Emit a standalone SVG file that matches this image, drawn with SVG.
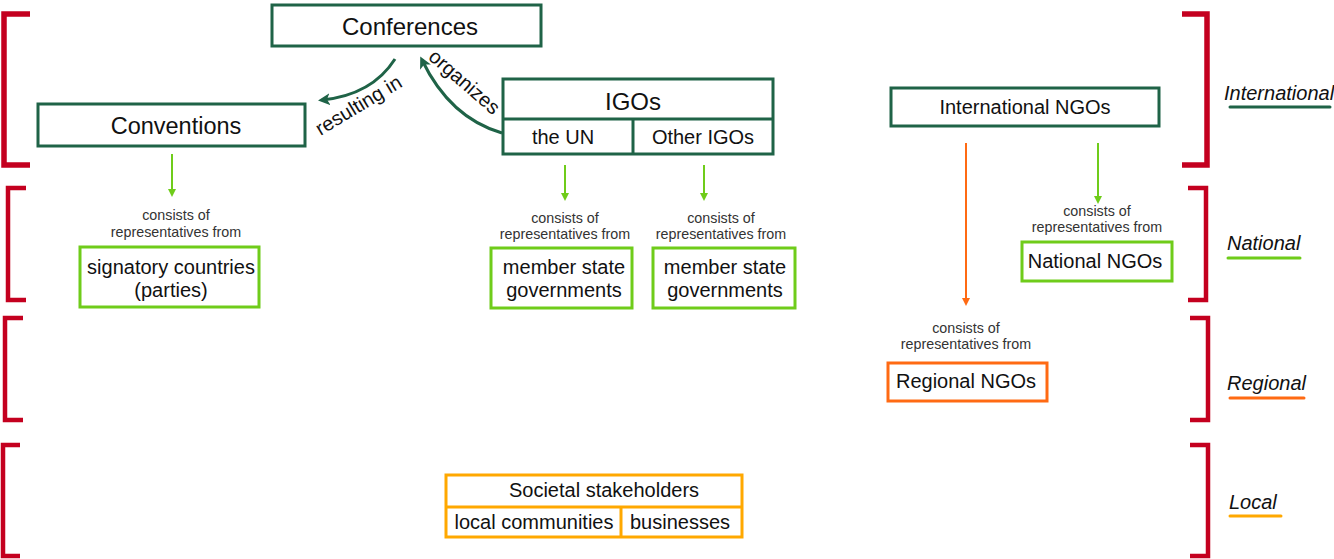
<svg xmlns="http://www.w3.org/2000/svg" width="1334" height="559" viewBox="0 0 1334 559">
<defs>
<style>
text{font-family:"Liberation Sans",Arial,sans-serif;fill:#111}
.br{fill:none;stroke:#c4001f;stroke-width:4.5}
.brT{fill:none;stroke:#c4001f;stroke-width:5.5}
.dg{fill:#fff;stroke:#1f6347;stroke-width:3}
.lg{fill:#fff;stroke:#6fcc1a;stroke-width:3}
.or{fill:#fff;stroke:#ff6a13;stroke-width:3}
.am{fill:#fff;stroke:#ffa800;stroke-width:3}
.small{font-size:14.3px;fill:#333}
.lvl{font-size:20px;font-style:italic}
.t20{font-size:20px}
</style>
<marker id="ag" markerWidth="8" markerHeight="8" refX="6" refY="4" orient="auto" markerUnits="userSpaceOnUse"><path d="M0,0 L8,4 L0,8 z" fill="#6fcc1a"/></marker>
<marker id="ao" markerWidth="8" markerHeight="8" refX="6" refY="4" orient="auto" markerUnits="userSpaceOnUse"><path d="M0,0 L8,4 L0,8 z" fill="#ff6a13"/></marker>
<marker id="ad" markerWidth="12" markerHeight="12" refX="8" refY="6" orient="auto" markerUnits="userSpaceOnUse"><path d="M0,0 L12,6 L0,12 L3,6 z" fill="#1f6347"/></marker>
</defs>

<g id="brackets">
<path class="brT" d="M30,14 H4 V165 H30"/>
<path class="br" d="M26,188 H8 V300 H26"/>
<path class="br" d="M23,318 H5 V420 H23"/>
<path class="br" d="M20,445 H3 V556 H20"/>
<path class="brT" d="M1182,14 H1207 V165 H1182"/>
<path class="br" d="M1188,188 H1206 V300 H1188"/>
<path class="br" d="M1190,318 H1208 V420 H1190"/>
<path class="br" d="M1190,445 H1208 V556 H1190"/>
</g>

<g id="levels">
<text class="lvl" x="1224" y="100">International</text>
<line x1="1230" y1="107" x2="1330" y2="107" stroke="#1f6347" stroke-width="3" stroke-linecap="round"/>
<text class="lvl" x="1227" y="250">National</text>
<line x1="1228" y1="258" x2="1300" y2="258" stroke="#6fcc1a" stroke-width="3" stroke-linecap="round"/>
<text class="lvl" x="1227" y="390">Regional</text>
<line x1="1230" y1="398" x2="1304" y2="398" stroke="#ff6a13" stroke-width="3" stroke-linecap="round"/>
<text class="lvl" x="1229" y="509">Local</text>
<line x1="1230" y1="516" x2="1281" y2="516" stroke="#ffa800" stroke-width="3" stroke-linecap="round"/>
</g>

<g id="connectors">
<path d="M395,59 Q372,95 322,100" fill="none" stroke="#1f6347" stroke-width="3" marker-end="url(#ad)"/>
<path d="M502,133 Q450,118 422,60" fill="none" stroke="#1f6347" stroke-width="3" marker-end="url(#ad)"/>
<text x="0" y="0" class="t20" transform="translate(362,111) rotate(-31)" text-anchor="middle">resulting in</text>
<text x="0" y="0" class="t20" transform="translate(460,87) rotate(41)" text-anchor="middle">organizes</text>
<line x1="172" y1="154" x2="172" y2="195" stroke="#6fcc1a" stroke-width="2" marker-end="url(#ag)"/>
<line x1="565" y1="165" x2="565" y2="199" stroke="#6fcc1a" stroke-width="2" marker-end="url(#ag)"/>
<line x1="704" y1="165" x2="704" y2="199" stroke="#6fcc1a" stroke-width="2" marker-end="url(#ag)"/>
<line x1="1098" y1="143" x2="1098" y2="202" stroke="#6fcc1a" stroke-width="2" marker-end="url(#ag)"/>
<line x1="966" y1="143" x2="966" y2="304" stroke="#ff6a13" stroke-width="2" marker-end="url(#ao)"/>
<text class="small" x="176" y="220" text-anchor="middle">consists of</text>
<text class="small" x="176" y="237" text-anchor="middle">representatives from</text>
<text class="small" x="565" y="223" text-anchor="middle">consists of</text>
<text class="small" x="565" y="239" text-anchor="middle">representatives from</text>
<text class="small" x="721" y="223" text-anchor="middle">consists of</text>
<text class="small" x="721" y="239" text-anchor="middle">representatives from</text>
<text class="small" x="1097" y="216" text-anchor="middle">consists of</text>
<text class="small" x="1097" y="232" text-anchor="middle">representatives from</text>
<text class="small" x="966" y="333" text-anchor="middle">consists of</text>
<text class="small" x="966" y="349" text-anchor="middle">representatives from</text>
</g>

<g id="conferences">
<rect class="dg" x="272" y="5" width="269" height="41"/>
<text x="410" y="35" font-size="24" text-anchor="middle">Conferences</text>
</g>
<g id="conventions">
<rect class="dg" x="38" y="104" width="267" height="42"/>
<text x="176" y="134" font-size="23.5" text-anchor="middle">Conventions</text>
</g>
<g id="igos">
<rect class="dg" x="503" y="79" width="270" height="75"/>
<line x1="503" y1="119" x2="773" y2="119" stroke="#1f6347" stroke-width="3"/>
<line x1="633" y1="119" x2="633" y2="154" stroke="#1f6347" stroke-width="3"/>
<text x="633" y="110" font-size="24" text-anchor="middle">IGOs</text>
<text x="563" y="144" class="t20" text-anchor="middle">the UN</text>
<text x="703" y="144" class="t20" text-anchor="middle">Other IGOs</text>
</g>
<g id="intl-ngos">
<rect class="dg" x="891" y="88" width="268" height="38"/>
<text x="1025" y="114" class="t20" text-anchor="middle">International NGOs</text>
</g>
<g id="signatory">
<rect class="lg" x="80" y="247" width="179" height="60"/>
<text x="171" y="274" class="t20" text-anchor="middle">signatory countries</text>
<text x="171" y="297" class="t20" text-anchor="middle">(parties)</text>
</g>
<g id="member-un">
<rect class="lg" x="491" y="248" width="141" height="60"/>
<text x="564" y="274" class="t20" text-anchor="middle">member state</text>
<text x="564" y="297" class="t20" text-anchor="middle">governments</text>
</g>
<g id="member-other">
<rect class="lg" x="653" y="248" width="142" height="60"/>
<text x="725" y="274" class="t20" text-anchor="middle">member state</text>
<text x="725" y="297" class="t20" text-anchor="middle">governments</text>
</g>
<g id="national-ngos">
<rect class="lg" x="1022" y="242" width="150" height="39"/>
<text x="1095" y="268" class="t20" text-anchor="middle">National NGOs</text>
</g>
<g id="regional-ngos">
<rect class="or" x="888" y="363" width="159" height="38"/>
<text x="966" y="388" class="t20" text-anchor="middle">Regional NGOs</text>
</g>
<g id="societal">
<rect class="am" x="446" y="475" width="296" height="62"/>
<line x1="446" y1="507" x2="742" y2="507" stroke="#ffa800" stroke-width="3"/>
<line x1="621" y1="507" x2="621" y2="537" stroke="#ffa800" stroke-width="3"/>
<text x="604" y="497" class="t20" text-anchor="middle">Societal stakeholders</text>
<text x="534" y="529" class="t20" text-anchor="middle">local communities</text>
<text x="680" y="529" class="t20" text-anchor="middle">businesses</text>
</g>
</svg>
